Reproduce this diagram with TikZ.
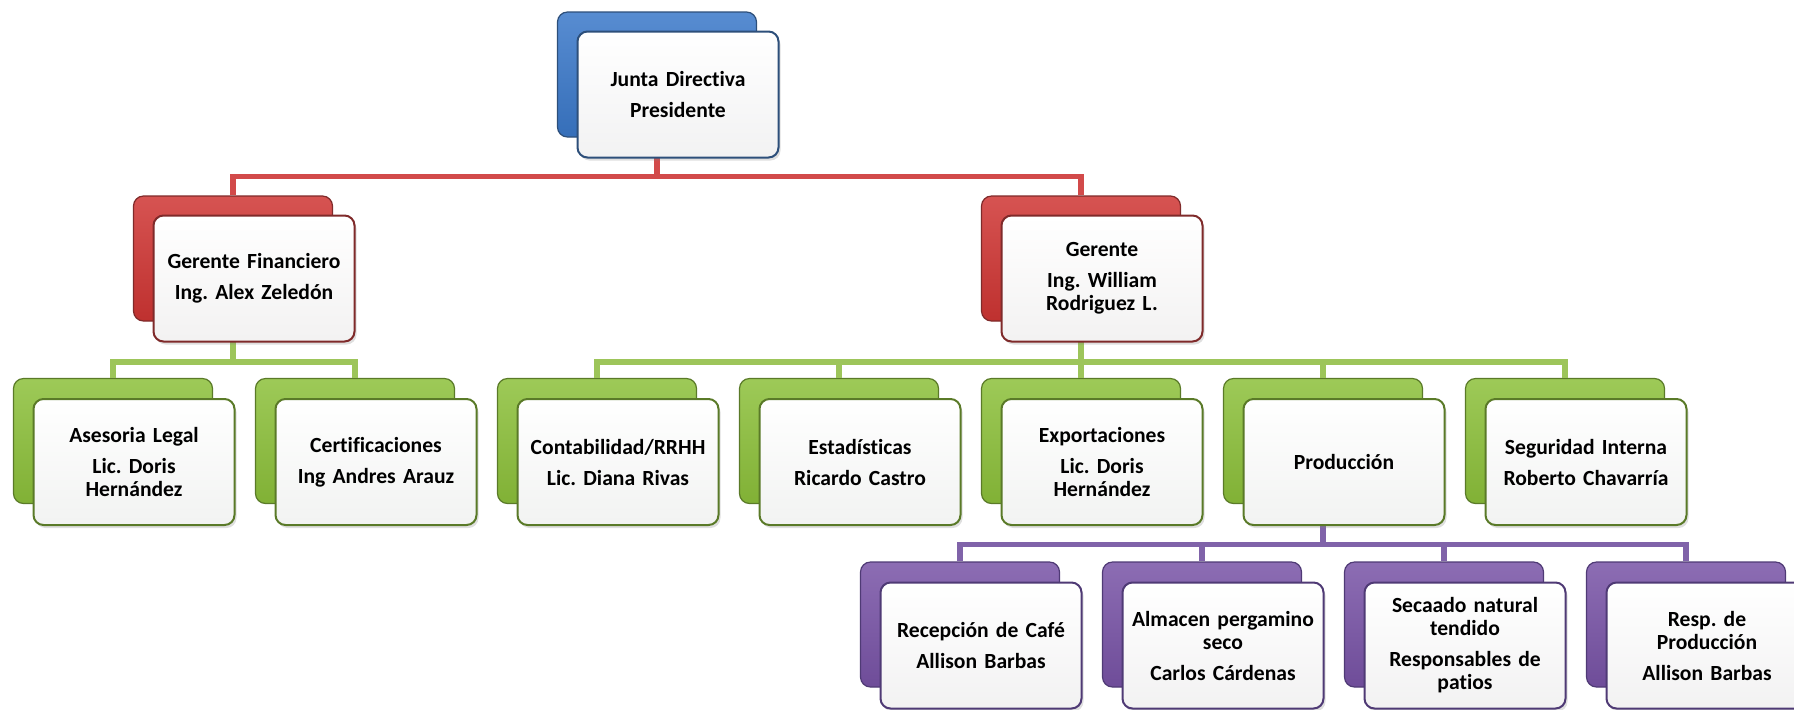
\documentclass[tikz,border=0pt]{standalone}
\usepackage{fontspec}
\setmainfont{Carlito}[Ligatures=NoCommon]
\frenchspacing
\usetikzlibrary{shadows}

\definecolor{bluebox}{HTML}{3A78C9}
\definecolor{blueedge}{HTML}{2D4F7A}
\definecolor{redbox}{HTML}{CF3533}
\definecolor{rededge}{HTML}{7F2A2A}
\definecolor{greenbox}{HTML}{8CC03A}
\definecolor{greenedge}{HTML}{5A7A28}
\definecolor{purplebox}{HTML}{7853A6}
\definecolor{purpleedge}{HTML}{4F3A75}
\definecolor{redline}{HTML}{D24A4A}
\definecolor{greenline}{HTML}{9DC55A}
\definecolor{purpleline}{HTML}{8063A9}

\begin{document}
\begin{tikzpicture}
            [x=0.5pt,y=-0.5pt,
             backbox/.style={rounded corners=5pt,minimum width=99.5pt,minimum height=62.5pt,line width=0.6pt},
             frontbox/.style={rounded corners=5pt,minimum width=100.5pt,minimum height=63pt,draw,line width=1pt,
                              text width=94pt,align=center,inner sep=0pt,
                              font=\bfseries\fontsize{10.8}{11.5}\selectfont,
                              drop shadow={opacity=0.25,shadow xshift=1pt,shadow yshift=-1.5pt}},
             blueback/.style={backbox,draw=blueedge,top color=bluebox!85!white,bottom color=bluebox!92!black},
             redback/.style={backbox,draw=rededge,top color=redbox!85!white,bottom color=redbox!92!black},
             greenback/.style={backbox,draw=greenedge,top color=greenbox!85!white,bottom color=greenbox!92!black},
             purpleback/.style={backbox,draw=purpleedge,top color=purplebox!85!white,bottom color=purplebox!92!black},
             bluefront/.style={frontbox,draw=blueedge,top color=white,bottom color=blue!3!gray!10},
             redfront/.style={frontbox,draw=rededge,top color=white,bottom color=red!4!gray!10},
             greenfront/.style={frontbox,draw=greenedge,top color=white,bottom color=green!4!gray!10},
             purplefront/.style={frontbox,draw=purpleedge,top color=white,bottom color=violet!4!gray!10},
             link/.style={line width=2.6pt}]
            \useasboundingbox (0,0) rectangle (1794,709);

            % back boxes
            \node[blueback] (jd-b) at (657,74.5) {};
            \node[redback] (gf-b) at (233,258.5) {};
            \node[redback] (gg-b) at (1081,258.5) {};
            \node[greenback] (al-b) at (113,441) {};
            \node[greenback] (ce-b) at (355,441) {};
            \node[greenback] (co-b) at (597,441) {};
            \node[greenback] (es-b) at (839,441) {};
            \node[greenback] (ex-b) at (1081,441) {};
            \node[greenback] (pr-b) at (1323,441) {};
            \node[greenback] (si-b) at (1565,441) {};
            \node[purpleback] (rc-b) at (960,624.5) {};
            \node[purpleback] (ap-b) at (1202,624.5) {};
            \node[purpleback] (sn-b) at (1444,624.5) {};
            \node[purpleback] (rp-b) at (1686,624.5) {};

            % lines
            \draw[link,redline] (gf-b.north) -- ++(0,-19) -| (jd-b.south);
            \draw[link,redline] (gg-b.north) -- ++(0,-19) -| (jd-b.south);
            \draw[link,greenline] (al-b.north) -- ++(0,-16) -| (gf-b.south);
            \draw[link,greenline] (ce-b.north) -- ++(0,-16) -| (gf-b.south);
            \draw[link,greenline] (co-b.north) -- ++(0,-16) -| (gg-b.south);
            \draw[link,greenline] (es-b.north) -- ++(0,-16) -| (gg-b.south);
            \draw[link,greenline] (ex-b.north) -- ++(0,-16) -| (gg-b.south);
            \draw[link,greenline] (pr-b.north) -- ++(0,-16) -| (gg-b.south);
            \draw[link,greenline] (si-b.north) -- ++(0,-16) -| (gg-b.south);
            \draw[link,purpleline] (rc-b.north) -- ++(0,-17) -| (pr-b.south);
            \draw[link,purpleline] (ap-b.north) -- ++(0,-17) -| (pr-b.south);
            \draw[link,purpleline] (sn-b.north) -- ++(0,-17) -| (pr-b.south);
            \draw[link,purpleline] (rp-b.north) -- ++(0,-17) -| (pr-b.south);

            % front boxes with names
            \node[bluefront] (jd) at ([shift={(21,20)}]jd-b.center) {Junta Directiva\\[4pt]Presidente};
            \node[redfront] (gf) at ([shift={(21,20)}]gf-b.center) {Gerente Financiero\\[4pt]Ing. Alex Zeledón};
            \node[redfront] (gg) at ([shift={(21,20)}]gg-b.center) {Gerente\\[4pt]Ing. William\\Rodriguez L.};
            \node[greenfront] (al) at ([shift={(21,21)}]al-b.center) {Asesoria Legal\\[4pt]Lic. Doris\\Hernández};
            \node[greenfront] (ce) at ([shift={(21,21)}]ce-b.center) {Certificaciones\\[4pt]Ing Andres Arauz};
            \node[greenfront] (co) at ([shift={(21,21)}]co-b.center) {Contabilidad/RRHH\\[4pt]Lic. Diana Rivas};
            \node[greenfront] (es) at ([shift={(21,21)}]es-b.center) {Estadísticas\\[4pt]Ricardo Castro};
            \node[greenfront] (ex) at ([shift={(21,21)}]ex-b.center) {Exportaciones\\[4pt]Lic. Doris\\Hernández};
            \node[greenfront] (pr) at ([shift={(21,21)}]pr-b.center) {Producción};
            \node[greenfront] (si) at ([shift={(21,21)}]si-b.center) {Seguridad Interna\\[4pt]Roberto Chavarría};
            \node[purplefront] (rc) at ([shift={(21,21)}]rc-b.center) {Recepción de Café\\[4pt]Allison Barbas};
            \node[purplefront] (ap) at ([shift={(21,21)}]ap-b.center) {Almacen pergamino\\seco\\[4pt]Carlos Cárdenas};
            \node[purplefront] (sn) at ([shift={(21,21)}]sn-b.center) {Secaado natural\\tendido\\[4pt]Responsables de\\patios};
            \node[purplefront] (rp) at ([shift={(21,21)}]rp-b.center) {Resp. de\\Producción\\[4pt]Allison Barbas};
        \end{tikzpicture}
\end{document}
